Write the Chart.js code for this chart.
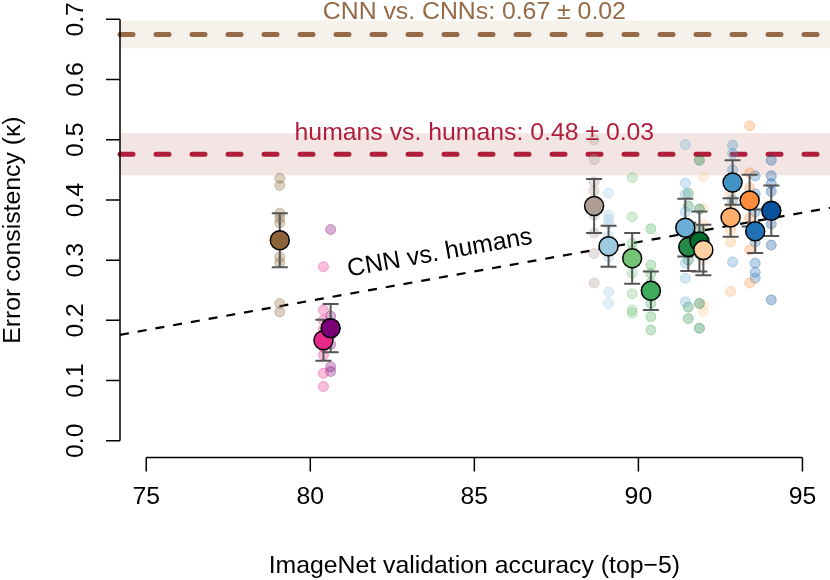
<!DOCTYPE html>
<html>
<head>
<meta charset="utf-8">
<script src="https://cdn.jsdelivr.net/npm/chart.js@4.4.0/dist/chart.umd.min.js"></script>
<style>
  html, body { margin: 0; padding: 0; background: #fff; }
  canvas { display: block; }
</style>
</head>
<body>
<canvas id="chart" width="830" height="580"></canvas>
<script>
// models in drawing order (later ones sit on top)
const models = ['alexnet', 'squeezenet1_0', 'squeezenet1_1', 'vgg11', 'resnet18', 'vgg11_bn', 'vgg13_bn',
  'resnet34', 'vgg16_bn', 'vgg19_bn', 'densenet121', 'resnet50', 'densenet169', 'densenet201', 'resnet101', 'resnet152'];
const accuracy = [79.07, 80.40, 80.62, 88.65, 89.09, 89.81, 90.38, 91.43, 91.52, 91.86, 91.98, 92.87, 92.81, 93.39, 93.56, 94.05];
const meanKappa = [0.333, 0.167, 0.187, 0.390, 0.323, 0.303, 0.249, 0.354, 0.322, 0.331, 0.317, 0.429, 0.371, 0.399, 0.348, 0.382];
const errKappa = [0.045, 0.034, 0.040, 0.045, 0.034, 0.042, 0.032, 0.048, 0.040, 0.050, 0.042, 0.037, 0.032, 0.043, 0.036, 0.042];
const modelColors = ['#8c6239', '#e7298a', '#7a0177', '#ad9d94', '#9ecae1', '#74c476', '#41ab5d',
  '#6baed6', '#238b45', '#006d2c', '#fdd0a2', '#4292c6', '#fdae6b', '#fd8d3c', '#2171b5', '#08519c'];

// per-condition error consistency, one list per model
const conditionKappa = [
  [0.436, 0.424, 0.378, 0.370, 0.362, 0.340, 0.305, 0.296, 0.228, 0.214],
  [0.289, 0.217, 0.200, 0.185, 0.170, 0.155, 0.142, 0.112, 0.090],
  [0.351, 0.207, 0.190, 0.175, 0.160, 0.123, 0.115],
  [0.500, 0.467, 0.430, 0.415, 0.395, 0.375, 0.345, 0.311, 0.262],
  [0.411, 0.375, 0.368, 0.360, 0.340, 0.330, 0.314, 0.305, 0.247, 0.228],
  [0.437, 0.372, 0.328, 0.317, 0.300, 0.278, 0.244, 0.217, 0.212],
  [0.352, 0.292, 0.278, 0.262, 0.240, 0.228, 0.206, 0.184],
  [0.492, 0.428, 0.410, 0.380, 0.360, 0.340, 0.295, 0.270, 0.231],
  [0.411, 0.390, 0.350, 0.300, 0.222, 0.203],
  [0.466, 0.385, 0.350, 0.310, 0.228, 0.187],
  [0.438, 0.386, 0.360, 0.300, 0.226, 0.214],
  [0.491, 0.477, 0.450, 0.420, 0.400, 0.297],
  [0.410, 0.390, 0.350, 0.330, 0.248],
  [0.523, 0.445, 0.420, 0.370, 0.317, 0.262],
  [0.440, 0.410, 0.380, 0.330, 0.295, 0.280, 0.270],
  [0.466, 0.440, 0.427, 0.414, 0.360, 0.325, 0.234]
];

const cnnVsCnn = 0.675, cnnVsCnnSd = 0.023;
const humanVsHuman = 0.476, humanVsHumanSd = 0.035;
const fitX = [74.2, 95.84];
const fitY = [0.176, 0.387];

const xTicks = [75, 80, 85, 90, 95];
const yTicks = [0, 0.1, 0.2, 0.3, 0.4, 0.5, 0.6, 0.7];

const FONT = '24.8px "Liberation Sans", Arial, sans-serif';
const BROWN = '#966a46';
const CRIMSON = '#b01e3c';

const alpha = (hex, a) => {
  const n = parseInt(hex.slice(1), 16);
  return `rgba(${n >> 16}, ${(n >> 8) & 255}, ${n & 255}, ${a})`;
};

const rStyle = {
  id: 'rStyle',
  beforeDatasetsDraw(chart) {
    const { ctx, chartArea: a, scales: { y } } = chart;
    ctx.save();
    ctx.fillStyle = '#f6f2eb';
    let top = y.getPixelForValue(cnnVsCnn + cnnVsCnnSd);
    ctx.fillRect(a.left, top, chart.width - a.left, y.getPixelForValue(cnnVsCnn - cnnVsCnnSd) - top);
    ctx.fillStyle = '#f2e5e3';
    top = y.getPixelForValue(humanVsHuman + humanVsHumanSd);
    ctx.fillRect(a.left, top, chart.width - a.left, y.getPixelForValue(humanVsHuman - humanVsHumanSd) - top);
    ctx.restore();
  },
  beforeDatasetDraw(chart, args) {
    if (args.index !== 0) return;
    const { ctx, scales: { x, y } } = chart;
    ctx.save();
    ctx.strokeStyle = '#555555';
    ctx.lineWidth = 2;
    accuracy.forEach((acc, i) => {
      const px = x.getPixelForValue(acc);
      const y1 = y.getPixelForValue(meanKappa[i] + errKappa[i]);
      const y2 = y.getPixelForValue(meanKappa[i] - errKappa[i]);
      ctx.beginPath();
      ctx.moveTo(px, y1); ctx.lineTo(px, y2);
      ctx.moveTo(px - 8, y1); ctx.lineTo(px + 8, y1);
      ctx.moveTo(px - 8, y2); ctx.lineTo(px + 8, y2);
      ctx.stroke();
    });
    ctx.restore();
  },
  afterDatasetsDraw(chart) {
    const { ctx, scales: { x, y } } = chart;
    ctx.save();
    ctx.font = FONT;
    ctx.textAlign = 'center';
    ctx.textBaseline = 'alphabetic';
    ctx.fillStyle = BROWN;
    ctx.fillText('CNN vs. CNNs: 0.67 \u00b1 0.02', x.getPixelForValue(85), 19);
    ctx.fillStyle = CRIMSON;
    ctx.fillText('humans vs. humans: 0.48 \u00b1 0.03', x.getPixelForValue(85), 140);
    // label along the fit line
    const x0 = x.getPixelForValue(fitX[0]), x1 = x.getPixelForValue(fitX[1]);
    const y0 = y.getPixelForValue(fitY[0]), y1 = y.getPixelForValue(fitY[1]);
    ctx.fillStyle = '#000';
    ctx.translate(441, 260);
    ctx.rotate(Math.atan2(y1 - y0, x1 - x0));
    ctx.fillText('CNN vs. humans', 0, 0);
    ctx.restore();
  },
  afterDraw(chart) {
    const { ctx, chartArea: a, scales: { x, y } } = chart;
    ctx.save();
    ctx.strokeStyle = '#000';
    ctx.fillStyle = '#000';
    ctx.lineWidth = 1.5;
    ctx.font = FONT;
    // x axis
    ctx.beginPath();
    ctx.moveTo(x.getPixelForValue(xTicks[0]), a.bottom);
    ctx.lineTo(x.getPixelForValue(xTicks[xTicks.length - 1]), a.bottom);
    xTicks.forEach(t => {
      const px = x.getPixelForValue(t);
      ctx.moveTo(px, a.bottom); ctx.lineTo(px, a.bottom + 14);
    });
    ctx.stroke();
    ctx.textAlign = 'center';
    ctx.textBaseline = 'alphabetic';
    xTicks.forEach(t => ctx.fillText(String(t), x.getPixelForValue(t), 504));
    ctx.fillText('ImageNet validation accuracy (top\u22125)', x.getPixelForValue(85), 573);
    // y axis
    ctx.beginPath();
    ctx.moveTo(a.left, y.getPixelForValue(yTicks[0]));
    ctx.lineTo(a.left, y.getPixelForValue(yTicks[yTicks.length - 1]));
    yTicks.forEach(t => {
      const py = y.getPixelForValue(t);
      ctx.moveTo(a.left, py); ctx.lineTo(a.left - 14, py);
    });
    ctx.stroke();
    yTicks.forEach(t => {
      ctx.save();
      ctx.translate(83, y.getPixelForValue(t));
      ctx.rotate(-Math.PI / 2);
      ctx.fillText(t.toFixed(1), 0, 0);
      ctx.restore();
    });
    ctx.save();
    ctx.translate(20, (a.top + a.bottom) / 2);
    ctx.rotate(-Math.PI / 2);
    ctx.fillText('Error consistency (\u03ba)', 0, 0);
    ctx.restore();
    ctx.restore();
  }
};

const datasets = [];
datasets.push({
  label: 'model mean',
  data: accuracy.map((acc, i) => ({ x: acc, y: meanKappa[i] })),
  backgroundColor: modelColors,
  borderColor: '#000',
  borderWidth: 1.5,
  pointRadius: 9.5
});
models.forEach((m, i) => {
  datasets.push({
    label: m,
    data: conditionKappa[i].map(k => ({ x: accuracy[i], y: k })),
    backgroundColor: alpha(modelColors[i], 0.3),
    borderColor: alpha(modelColors[i], 0.35),
    borderWidth: 1,
    pointRadius: 5
  });
});
datasets.push({
  type: 'line',
  label: 'CNN vs. humans',
  data: fitX.map((v, i) => ({ x: v, y: fitY[i] })),
  borderColor: '#000',
  borderWidth: 2.2,
  borderDash: [9, 9],
  pointRadius: 0,
  clip: false,
  fill: false
});
datasets.push({
  type: 'line',
  label: 'humans vs. humans',
  data: fitX.map(v => ({ x: v, y: humanVsHuman })),
  borderColor: CRIMSON,
  borderWidth: 5,
  borderDash: [13, 23],
  borderCapStyle: 'round',
  pointRadius: 0,
  clip: false,
  fill: false
});
datasets.push({
  type: 'line',
  label: 'CNN vs. CNNs',
  data: fitX.map(v => ({ x: v, y: cnnVsCnn })),
  borderColor: BROWN,
  borderWidth: 5,
  borderDash: [13, 23],
  borderCapStyle: 'round',
  pointRadius: 0,
  clip: false,
  fill: false
});

new Chart(document.getElementById('chart'), {
  type: 'scatter',
  data: { datasets },
  options: {
    responsive: false,
    animation: false,
    events: [],
    layout: { autoPadding: false, padding: { left: 120, right: 1.3, top: 2.5, bottom: 122.4 } },
    scales: {
      x: { type: 'linear', min: 74.2, max: 95.8, display: false },
      y: { type: 'linear', min: -0.028, max: 0.728, display: false }
    },
    plugins: { legend: { display: false }, tooltip: { enabled: false } }
  },
  plugins: [rStyle]
});
</script>
</body>
</html>
